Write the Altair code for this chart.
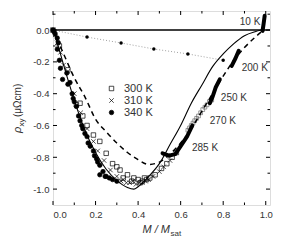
import altair as alt
import pandas as pd

# ---------------- data ----------------
# solid and dashed model curves
m_solid = [0.0, 0.02, 0.05, 0.10, 0.15, 0.20, 0.25, 0.30, 0.35, 0.38, 0.40, 0.45, 0.50, 0.55, 0.60, 0.65, 0.70, 0.75, 0.80, 0.85, 0.90, 0.95, 0.98]
r_solid = [0.0, -0.08, -0.22, -0.44, -0.63, -0.77, -0.875, -0.945, -0.99, -1.0, -0.985, -0.92, -0.84, -0.72, -0.60, -0.46, -0.345, -0.23, -0.15, -0.085, -0.035, -0.01, 0.0]
m_dash = [0.0, 0.05, 0.10, 0.15, 0.20, 0.25, 0.30, 0.35, 0.40, 0.45, 0.50, 0.55, 0.60, 0.65, 0.70, 0.75, 0.80, 0.85, 0.90, 0.95, 0.98]
r_dash = [0.0, -0.15, -0.30, -0.42, -0.56, -0.64, -0.71, -0.77, -0.815, -0.845, -0.83, -0.78, -0.71, -0.62, -0.51, -0.40, -0.29, -0.19, -0.11, -0.045, -0.01]

# dotted line with dots
m_dot = [0.0, 0.16, 0.32, 0.474, 0.634, 0.80]
r_dot = [0.0, -0.044, -0.081, -0.119, -0.15, -0.19]

# scatter series
m340 = [0.0, 0.005, 0.01, 0.02, 0.025, 0.02, 0.03, 0.035, 0.045, 0.065, 0.07, 0.08, 0.09, 0.095, 0.10, 0.11, 0.12, 0.127, 0.135, 0.14, 0.15, 0.16, 0.165, 0.175, 0.19, 0.195, 0.205, 0.21, 0.22, 0.22, 0.235, 0.245, 0.25, 0.265, 0.28, 0.30]
r340 = [0.0, -0.01, -0.025, -0.05, -0.08, -0.12, -0.19, -0.24, -0.31, -0.27, -0.34, -0.33, -0.40, -0.43, -0.45, -0.48, -0.54, -0.57, -0.60, -0.62, -0.65, -0.67, -0.71, -0.73, -0.76, -0.79, -0.81, -0.83, -0.85, -0.91, -0.89, -0.92, -0.92, -0.93, -0.94, -0.95]
m300 = [0.0, 0.03, 0.07, 0.11, 0.127, 0.14, 0.16, 0.19, 0.22, 0.25, 0.28, 0.30, 0.315, 0.33, 0.35, 0.37, 0.38, 0.40, 0.41, 0.42, 0.43, 0.44, 0.455, 0.48, 0.51, 0.535, 0.56, 0.58]
r300 = [0.0, -0.10, -0.25, -0.47, -0.46, -0.54, -0.60, -0.66, -0.70, -0.775, -0.84, -0.86, -0.88, -0.93, -0.91, -0.95, -0.93, -0.94, -0.96, -0.95, -0.93, -0.94, -0.93, -0.91, -0.87, -0.84, -0.80, -0.77]
m310 = [0.0, 0.01, 0.02, 0.035, 0.05, 0.07, 0.10, 0.13, 0.16, 0.19, 0.21, 0.24, 0.27, 0.30, 0.32, 0.33, 0.345, 0.36, 0.375, 0.39, 0.405, 0.42, 0.435, 0.45, 0.47, 0.50, 0.52, 0.55]
r310 = [0.0, -0.03, -0.08, -0.14, -0.22, -0.26, -0.40, -0.52, -0.62, -0.70, -0.76, -0.82, -0.88, -0.92, -0.95, -0.94, -0.96, -0.96, -0.95, -0.97, -0.96, -0.96, -0.95, -0.94, -0.92, -0.89, -0.86, -0.82]
series_names = ["300 K", "310 K", "340 K"]

# 270 K open-symbol segment
m270 = [0.634, 0.642, 0.65, 0.658, 0.666, 0.675, 0.684, 0.694, 0.704, 0.714, 0.724, 0.735, 0.746]
r270 = [-0.63, -0.615, -0.60, -0.585, -0.57, -0.555, -0.54, -0.52, -0.50, -0.485, -0.47, -0.45, -0.44]

# dense filled segments
seg_names = ["285 K"] * 6 + ["250 K"] * 4 + ["200 K"] * 3 + ["10 K"] * 3
seg_m = [0.515, 0.545, 0.575, 0.60, 0.63, 0.655, 0.737, 0.75, 0.765, 0.784, 0.84, 0.857, 0.873, 0.985, 0.99, 0.995]
seg_r = [-0.775, -0.79, -0.78, -0.73, -0.67, -0.60, -0.46, -0.42, -0.36, -0.31, -0.225, -0.18, -0.13, -0.005, 0.04, 0.09]

# temperature labels
lab_text = ["10 K", "200 K", "250 K", "270 K", "285 K"]
lab_m = [0.878, 0.887, 0.789, 0.737, 0.653]
lab_r = [0.05, -0.24, -0.425, -0.57, -0.74]

# axis ticks
x_major = [0.0, 0.2, 0.4, 0.6, 0.8, 1.0]
x_minor = [0.1, 0.3, 0.5, 0.7, 0.9]
y_major = [0.0, -0.2, -0.4, -0.6, -0.8, -1.0]
y_minor = [0.1, -0.1, -0.3, -0.5, -0.7, -0.9]
zero_line = [0.0]

x_title = ["M / M", "sat"]
y_title = ["ρ", "xy", "(μΩcm)"]

# ---------------- chart ----------------
W, H = 217, 194
FONT = "Liberation Sans"
TXT = "#333333"

xs = alt.Scale(domain=[0, 1.02], nice=False, zero=False)
ys = alt.Scale(domain=[-1.1, 0.12], nice=False, zero=False)

x_axis = alt.Axis(values=x_major, format=".1f", title=None, ticks=False, domain=False,
                  grid=False, labelPadding=4, labelFontSize=9.5, labelColor=TXT, labelFont=FONT)
y_axis = alt.Axis(values=y_major, title=None, ticks=False, domain=False, grid=False,
                  labelPadding=4, labelFontSize=9.5, labelColor=TXT, labelFont=FONT,
                  labelExpr="replace(format(datum.value, '.1f'), '−', '-')")

X = lambda f: alt.X(f, type="quantitative", scale=xs, axis=x_axis)
Y = lambda f: alt.Y(f, type="quantitative", scale=ys, axis=y_axis)

solid_df = pd.DataFrame({"m": m_solid, "r": r_solid})
dash_df = pd.DataFrame({"m": m_dash, "r": r_dash})
dot_df = pd.DataFrame({"m": m_dot, "r": r_dot})
sc_df = pd.concat([
    pd.DataFrame({"m": m300, "r": r300, "s": series_names[0]}),
    pd.DataFrame({"m": m310, "r": r310, "s": series_names[1]}),
    pd.DataFrame({"m": m340, "r": r340, "s": series_names[2]}),
])
df270 = pd.DataFrame({"m": m270, "r": r270})
seg_df = pd.DataFrame({"m": seg_m, "r": seg_r, "g": seg_names})
lab_df = pd.DataFrame({"m": lab_m, "r": lab_r, "t": lab_text})

ticks = []
ticks.append(alt.Chart(pd.DataFrame({"v": x_major})).mark_rule(color="black").encode(x=X("v"), y=alt.value(H), y2=alt.value(H - 4)))
ticks.append(alt.Chart(pd.DataFrame({"v": x_major})).mark_rule(color="black").encode(x=X("v"), y=alt.value(0), y2=alt.value(4)))
ticks.append(alt.Chart(pd.DataFrame({"v": x_minor})).mark_rule(color="black").encode(x=X("v"), y=alt.value(H), y2=alt.value(H - 2.5)))
ticks.append(alt.Chart(pd.DataFrame({"v": x_minor})).mark_rule(color="black").encode(x=X("v"), y=alt.value(0), y2=alt.value(2.5)))
ticks.append(alt.Chart(pd.DataFrame({"v": y_major})).mark_rule(color="black").encode(y=Y("v"), x=alt.value(0), x2=alt.value(4)))
ticks.append(alt.Chart(pd.DataFrame({"v": y_major})).mark_rule(color="black").encode(y=Y("v"), x=alt.value(W), x2=alt.value(W - 4)))
ticks.append(alt.Chart(pd.DataFrame({"v": y_minor})).mark_rule(color="black").encode(y=Y("v"), x=alt.value(0), x2=alt.value(2.5)))
ticks.append(alt.Chart(pd.DataFrame({"v": y_minor})).mark_rule(color="black").encode(y=Y("v"), x=alt.value(W), x2=alt.value(W - 2.5)))

zero = alt.Chart(pd.DataFrame({"v": zero_line})).mark_rule(color="black", strokeWidth=1.5).encode(y=Y("v"))

dotted = alt.Chart(dot_df).mark_line(color="#888888", strokeWidth=0.8, strokeDash=[1, 2]).encode(x=X("m"), y=Y("r"))
dotpts = alt.Chart(dot_df).mark_point(filled=True, color="black", size=12, opacity=1).encode(x=X("m"), y=Y("r"))

leg = alt.Legend(orient="none", legendX=53, legendY=72, title=None,
                 labelFontSize=11, labelFont=FONT, labelColor=TXT,
                 symbolSize=20, symbolStrokeWidth=0.7,
                 rowPadding=0, labelOffset=7, padding=0)
scatter = alt.Chart(sc_df).mark_point(filled=True, strokeWidth=0.7, opacity=1, size=20).encode(
    x=X("m"), y=Y("r"),
    shape=alt.Shape("s:N", scale=alt.Scale(domain=series_names,
                                            range=["square", "M-1,-1L1,1M-1,1L1,-1", "circle"]), legend=leg),
    fill=alt.Fill("s:N", scale=alt.Scale(domain=series_names,
                                          range=["transparent", "transparent", "black"]), legend=leg),
    stroke=alt.Stroke("s:N", scale=alt.Scale(domain=series_names,
                                              range=["black", "black", "black"]), legend=leg),
)

p270 = alt.Chart(df270).mark_point(shape="square", stroke="#555555", strokeWidth=0.6, size=14, opacity=1, fill="transparent").encode(x=X("m"), y=Y("r"))

segs = alt.Chart(seg_df).mark_line(color="black", strokeWidth=4, strokeCap="round").encode(
    x=X("m"), y=Y("r"), detail="g:N")

solid = alt.Chart(solid_df).mark_line(color="black", strokeWidth=1.1, interpolate="monotone").encode(x=X("m"), y=Y("r"))
dashed = alt.Chart(dash_df).mark_line(color="black", strokeWidth=1.5, strokeDash=[5, 4], interpolate="monotone").encode(x=X("m"), y=Y("r"))

labels = alt.Chart(lab_df).mark_text(align="left", baseline="middle", fontSize=10, font=FONT, color=TXT).encode(
    x=X("m"), y=Y("r"), text="t:N")

def txt(s, **kw):
    return alt.Chart(pd.DataFrame({"t": [s]})).mark_text(font=FONT, color=TXT, **kw)

xt1 = txt(x_title[0], fontSize=11, fontStyle="italic", align="right", baseline="alphabetic").encode(
    x=alt.value(117), y=alt.value(222), text="t:N")
xt2 = txt(x_title[1], fontSize=8, align="left", baseline="alphabetic").encode(
    x=alt.value(117.5), y=alt.value(225), text="t:N")
yt1 = txt(y_title[0], fontSize=11, fontStyle="italic", angle=270, align="left", baseline="alphabetic").encode(
    x=alt.value(-32), y=alt.value(122), text="t:N")
yt2 = txt(y_title[1], fontSize=8, angle=270, align="left", baseline="alphabetic").encode(
    x=alt.value(-29.5), y=alt.value(115.5), text="t:N")
yt3 = txt(y_title[2], fontSize=10, angle=270, align="left", baseline="alphabetic").encode(
    x=alt.value(-32), y=alt.value(106), text="t:N")

chart = alt.layer(
    zero, dotted, dotpts, scatter, p270, segs, solid, dashed, labels,
    *ticks, xt1, xt2, yt1, yt2, yt3
).properties(
    width=W, height=H,
    autosize=alt.AutoSizeParams(type="none"),
    padding={"left": 45, "top": 3, "right": 15, "bottom": 35},
).configure_view(stroke="black", strokeWidth=1.5).configure(background="white")

chart.save("out.html", embed_options={"renderer": "svg", "actions": False})
